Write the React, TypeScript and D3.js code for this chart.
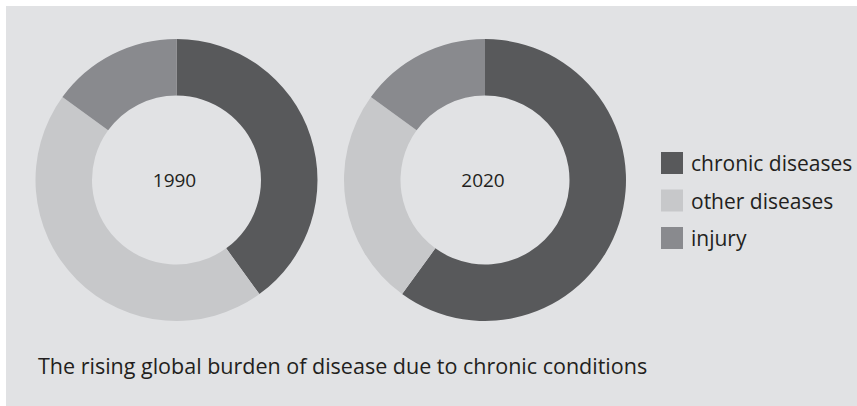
import * as d3 from 'd3'

const categories = ['chronic diseases', 'other diseases', 'injury']
const years = ['1990', '2020']
const share1990 = [40, 45, 15]
const share2020 = [60, 25, 15]
const caption = 'The rising global burden of disease due to chronic conditions'

const COLORS = ['#58595b', '#c7c8ca', '#898a8e']
const BG = '#e1e2e4'
const TEXT = '#231f20'
const FONT = '"Open Sans", "Noto Sans", sans-serif'

export default function App() {
  const width = 857
  const height = 406
  const outer = 141
  const inner = 84.5
  const cy = 180

  const x = d3.scalePoint<string>().domain(years).range([176.5, 485])
  const color = d3.scaleOrdinal<string, string>().domain(categories).range(COLORS)
  const legendY = d3.scalePoint<string>().domain(categories).range([163, 238])

  const pie = d3
    .pie<number>()
    .sort(null)
    .value(d => d)
  const arc = d3.arc<d3.PieArcDatum<number>>().innerRadius(inner).outerRadius(outer)

  const series = [share1990, share2020]

  return (
    <svg
      width={width}
      height={height}
      style={{ position: 'absolute', left: 0, top: 0, fontFamily: FONT }}
    >
      <rect x={0} y={0} width={width} height={height} fill="#ffffff" />
      <rect x={6} y={6} width={width - 6} height={height - 6} fill={BG} />

      {years.map((year, i) => (
        <g key={year} transform={`translate(${x(year)},${cy})`}>
          {pie(series[i]).map((slice, j) => (
            <path key={categories[j]} d={arc(slice) ?? ''} fill={color(categories[j])} />
          ))}
          <text x={-2} y={7} textAnchor="middle" fontSize={19} fill={TEXT}>
            {year}
          </text>
        </g>
      ))}

      {categories.map(cat => (
        <g key={cat} transform={`translate(661,${legendY(cat)})`}>
          <rect x={0} y={-11} width={22} height={22} fill={color(cat)} />
          <text x={30} y={8} fontSize={21} fill={TEXT}>
            {cat}
          </text>
        </g>
      ))}

      <text x={38} y={374} fontSize={21.5} fill={TEXT}>
        {caption}
      </text>
    </svg>
  )
}
